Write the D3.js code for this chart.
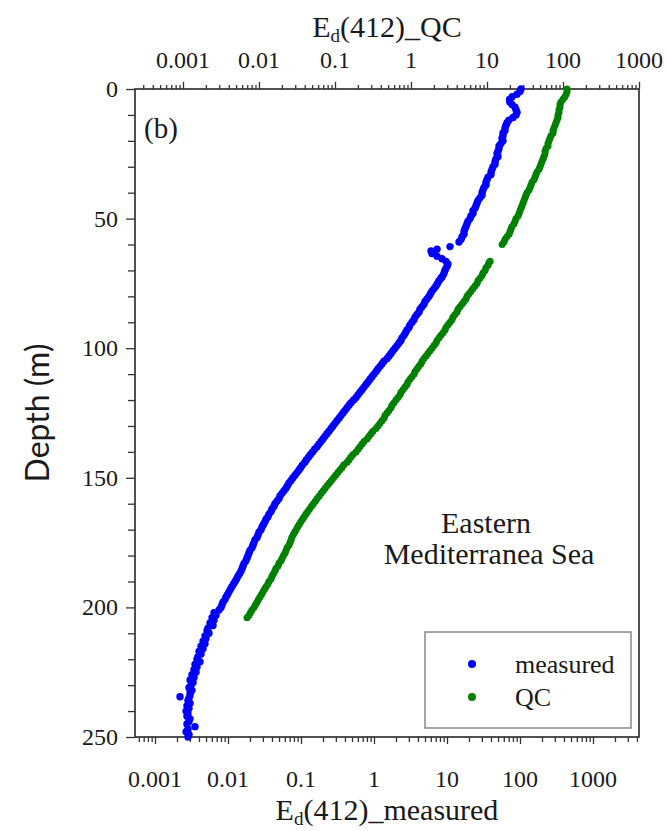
<!DOCTYPE html>
<html>
<head>
<meta charset="utf-8">
<script src="https://cdn.jsdelivr.net/npm/d3@7"></script>
<style>
  body { margin: 0; background: #fff; }
  svg { display: block; }
  .serif { font-family: "Liberation Serif", "Times New Roman", Times, "DejaVu Serif", serif; }
  .sans { font-family: Lato, "Noto Sans", "Liberation Sans", sans-serif; }
</style>
</head>
<body>
<svg id="chart" width="667" height="831"></svg>
<script>
// Ed(412) profile, Eastern Mediterranean station: measured vs. quality-controlled
const measuredDepth = [
  0,1,2,3,4,5,6,7,8,9,10,11,12,13,14,15,16,17,18,19,
  20,21,22,23,24,25,26,27,28,29,30,31,32,33,34,35,36,37,38,39,
  40,41,42,43,44,45,46,47,48,49,50,51,52,53,54,55,56,57,58,59,
  60.8,61.8,62.5,63.5,64.5,65.5,66.5,67.5,68.5,69.5,70.5,71.5,72.5,
  73,74,75,76,77,78,79,80,81,82,83,84,85,86,87,88,89,
  90,91,92,93,94,95,96,97,98,99,100,101,102,103,104,105,106,107,108,109,
  110,111,112,113,114,115,116,117,118,119,120,121,122,123,124,125,126,127,128,129,
  130,131,132,133,134,135,136,137,138,139,140,141,142,143,144,145,146,147,148,149,
  150,151,152,153,154,155,156,157,158,159,160,161,162,163,164,165,166,167,168,169,
  170,171,172,173,174,175,176,177,178,179,180,181,182,183,184,185,186,187,188,189,
  190,191,192,193,194,195,196,197,198,199,200,201,202,203,204,205,206,207,208,209,
  210,211,212,213,214,215,216,217,218,219,220,221,222,223,224,225,226,227,228,229,
  230,231,232,233,234,234.5,235,236,237,238,239,240,241,242,243,244,245,246,247,248,249,250
];
const measuredEd = [
  103,100,91.0,78.0,72.0,72.5,77.7,85.4,88.2,91.0,
  88.2,80.2,70.7,66.4,64.3,62.3,62.3,58.5,58.5,56.7,
  58.5,54.9,51.6,51.6,50.0,48.4,50.0,46.9,45.5,45.5,
  42.7,41.4,40.1,40.1,36.5,35.3,34.2,34.2,32.1,31.1,
  30.2,30.2,28.3,26.6,25.8,25.0,24.2,22.7,22.7,21.3,
  20.7,19.4,18.8,18.2,17.6,17.1,17.1,16.1,15.6,14.6,
  11.0,7.30,6.04,6.23,7.30,8.54,9.69,10.3,10.0,9.54,9.24,8.96,8.54,
  8.28,7.77,7.41,7.07,6.64,6.23,5.94,5.67,5.32,5.00,4.84,4.55,4.27,4.14,3.88,3.65,3.53,
  3.32,3.11,3.02,2.83,2.70,2.58,2.42,2.34,2.20,2.07,1.94,1.82,1.71,1.61,1.51,1.37,1.29,1.21,1.13,1.07,
  1.00,0.939,0.882,0.828,0.777,0.730,0.685,0.643,0.604,0.567,0.526,0.484,0.455,0.427,0.401,0.376,0.353,0.332,0.311,0.292,
  0.274,0.258,0.242,0.227,0.213,0.200,0.188,0.176,0.166,0.154,0.144,0.135,0.127,0.119,0.113,0.105,0.0994,0.0939,0.0882,0.0828,
  0.0777,0.0730,0.0685,0.0654,0.0623,0.0585,0.0549,0.0516,0.0500,0.0469,0.0440,0.0427,0.0401,0.0388,0.0365,0.0353,0.0332,0.0321,0.0306,0.0292,
  0.0283,0.0266,0.0258,0.0250,0.0234,0.0227,0.0220,0.0213,0.0200,0.0194,0.0188,0.0182,0.0176,0.0166,0.0161,0.0156,0.0151,0.0144,0.0137,0.0131,
  0.0125,0.0119,0.0113,0.0108,0.0103,0.00988,0.00939,0.00910,0.00854,0.00828,0.00802,0.00753,0.00643,0.00685,0.00604,0.00643,0.00567,0.00623,0.00532,0.00516,
  0.00549,0.00484,0.00500,0.00455,0.00484,0.00427,0.00455,0.00401,0.00427,0.00388,0.00376,0.00414,0.00353,0.00376,0.00342,0.00365,0.00321,0.00342,0.00302,0.00332,
  0.00311,0.00292,0.00321,0.00302,0.00302,0.00220,0.00292,0.00283,0.00302,0.00274,0.00292,0.00266,0.00283,0.00274,0.00302,0.00292,0.00274,0.00353,0.00283,0.00266,0.00292,0.00283
];

const qcDepth = [
  0,1,2,3,4,5,6,7,8,9,10,11,12,13,14,15,16,17,18,19,
  20,21,22,23,24,25,26,27,28,29,30,31,32,33,34,35,36,37,38,39,
  40,41,42,43,44,45,46,47,48,49,50,51,52,53,54,55,56,57,58,59,60,
  66.5,67,68,69,70,71,72,73,74,75,76,77,78,79,80,81,82,83,84,85,86,87,88,89,
  90,91,92,93,94,95,96,97,98,99,100,101,102,103,104,105,106,107,108,109,
  110,111,112,113,114,115,116,117,118,119,120,121,122,123,124,125,126,127,128,129,
  130,131,132,133,134,135,136,137,138,139,140,141,142,143,144,145,146,147,148,149,
  150,151,152,153,154,155,156,157,158,159,160,161,162,163,164,165,166,167,168,169,
  170,171,172,173,174,175,176,177,178,179,180,181,182,183,184,185,186,187,188,189,
  190,191,192,193,194,195,196,197,198,199,200,201,202,203,204
];
const qcEd = [
  113,113,110,106,100,94.1,91.3,91.3,88.6,88.6,
  85.9,85.9,83.4,80.9,78.5,76.1,73.9,73.9,69.5,67.4,
  65.4,63.5,63.5,59.7,58.0,58.0,56.2,54.6,52.9,51.3,
  49.8,48.3,45.5,44.1,42.8,41.5,39.1,37.9,36.8,35.7,
  33.6,32.6,31.6,30.7,29.8,28.9,28.0,27.2,26.4,25.6,
  24.1,23.4,22.7,21.3,20.7,20.1,19.5,18.3,17.3,16.7,15.8,
  11.0,10.6,10.3,9.70,9.41,8.86,8.59,8.09,7.61,7.39,6.95,6.54,6.16,5.80,5.46,5.29,4.98,4.69,4.41,4.15,4.03,3.79,3.57,3.46,
  3.26,3.07,2.89,2.80,2.64,2.48,2.34,2.20,2.13,2.01,1.89,1.78,1.67,1.58,1.48,1.40,1.35,1.27,1.20,1.13,
  1.10,1.03,0.970,0.913,0.886,0.834,0.785,0.739,0.717,0.674,0.635,0.597,0.562,0.546,0.513,0.483,0.455,0.441,0.415,0.391,
  0.368,0.346,0.316,0.298,0.280,0.264,0.241,0.227,0.213,0.201,0.189,0.173,0.162,0.153,0.144,0.131,0.124,0.116,0.109,0.102,
  0.0959,0.0899,0.0844,0.0792,0.0743,0.0700,0.0659,0.0620,0.0583,0.0551,0.0520,0.0491,0.0463,0.0439,0.0415,0.0393,0.0374,0.0355,0.0338,0.0322,
  0.0308,0.0294,0.0282,0.0270,0.0264,0.0256,0.0248,0.0234,0.0227,0.0220,0.0210,0.0201,0.0195,0.0183,0.0178,0.0167,0.0162,0.0155,0.0148,0.0144,
  0.0135,0.0131,0.0124,0.0118,0.0113,0.0108,0.0103,0.00985,0.00941,0.00899,0.00859,0.00809,0.00773,0.00739,0.00695
];

const decadeValues = [0.001, 0.01, 0.1, 1, 10, 100, 1000];
const decadeLabels = ["0.001", "0.01", "0.1", "1", "10", "100", "1000"];
const depthTicks = [0, 50, 100, 150, 200, 250];
const depthMinorTicks = [10, 20, 30, 40, 60, 70, 80, 90, 110, 120, 130, 140, 160, 170, 180, 190, 210, 220, 230, 240];
const seriesNames = ["measured", "QC"];
const seriesColors = ["#0000ff", "#008000"];

const svg = d3.select("#chart");
const plot = { left: 135, right: 639, top: 89, bottom: 737 };
const axisColor = "#333";
const textColor = "#1a1a1a";

// Scales: bottom axis for measured values, top axis for QC values
const xMeasured = d3.scaleLog().domain([5.32e-4, 4267]).range([plot.left, plot.right]);
const xQC = d3.scaleLog().domain([2.336e-4, 1000]).range([plot.left, plot.right]);
const yDepth = d3.scaleLinear().domain([0, 250]).range([plot.top, plot.bottom]);

function styleAxis(g) {
  g.select(".domain").remove();
  g.selectAll(".tick line").attr("stroke", axisColor).attr("stroke-width", 1.3);
  g.selectAll(".tick text").remove();
}
const isDecade = v => decadeValues.includes(+v.toPrecision(3));

// Bottom axis ticks (outward)
svg.append("g").attr("transform", `translate(0,${plot.bottom})`)
  .call(d3.axisBottom(xMeasured).tickValues(xMeasured.ticks().filter(v => !isDecade(v))).tickSize(5).tickFormat(""))
  .call(styleAxis);
svg.append("g").attr("transform", `translate(0,${plot.bottom})`)
  .call(d3.axisBottom(xMeasured).tickValues(decadeValues).tickSize(7).tickFormat(""))
  .call(styleAxis);

// Top axis ticks (outward)
svg.append("g").attr("transform", `translate(0,${plot.top})`)
  .call(d3.axisTop(xQC).tickValues(xQC.ticks().filter(v => !isDecade(v))).tickSize(4).tickFormat(""))
  .call(styleAxis);
svg.append("g").attr("transform", `translate(0,${plot.top})`)
  .call(d3.axisTop(xQC).tickValues(decadeValues).tickSize(7).tickFormat(""))
  .call(styleAxis);

// Left depth axis
svg.append("g").attr("transform", `translate(${plot.left},0)`)
  .call(d3.axisLeft(yDepth).tickValues(depthMinorTicks).tickSize(7).tickFormat(""))
  .call(styleAxis);
svg.append("g").attr("transform", `translate(${plot.left},0)`)
  .call(d3.axisLeft(yDepth).tickValues(depthTicks).tickSize(9).tickFormat(""))
  .call(styleAxis);

// Tick labels
svg.append("g").selectAll("text").data(decadeValues).join("text")
  .attr("class", "serif")
  .attr("x", d => xMeasured(d)).attr("y", plot.bottom + 50)
  .attr("text-anchor", "middle").attr("font-size", 24).attr("fill", textColor)
  .text((d, i) => decadeLabels[i]);
svg.append("g").selectAll("text").data(decadeValues).join("text")
  .attr("class", "serif")
  .attr("x", d => xQC(d)).attr("y", plot.top - 21)
  .attr("text-anchor", "middle").attr("font-size", 24).attr("fill", textColor)
  .text((d, i) => decadeLabels[i]);
svg.append("g").selectAll("text").data(depthTicks).join("text")
  .attr("class", "serif")
  .attr("x", plot.left - 17).attr("y", d => yDepth(d) + 8)
  .attr("text-anchor", "end").attr("font-size", 24).attr("fill", textColor)
  .text(d => d);

// Frame
svg.append("rect")
  .attr("x", plot.left).attr("y", plot.top)
  .attr("width", plot.right - plot.left).attr("height", plot.bottom - plot.top)
  .attr("fill", "none").attr("stroke", axisColor).attr("stroke-width", 1.7);

// Axis titles
function edTitle(x, y, suffix) {
  const t = svg.append("text").attr("class", "serif").attr("x", x).attr("y", y)
    .attr("text-anchor", "middle").attr("font-size", 30).attr("fill", textColor);
  t.append("tspan").text("E");
  t.append("tspan").attr("font-size", 19).attr("dy", 5).text("d");
  t.append("tspan").attr("dy", -5).text("(412)_" + suffix);
}
edTitle(387, 37, "QC");
edTitle(387, 820, "measured");

svg.append("text").attr("class", "sans")
  .attr("transform", `translate(49,${(plot.top + plot.bottom) / 2}) rotate(-90)`)
  .attr("text-anchor", "middle")
  .attr("font-size", 32).attr("fill", textColor).text("Depth (m)");

// Panel label and region name
svg.append("text").attr("class", "serif").attr("x", 144).attr("y", 138)
  .attr("font-size", 29).attr("fill", textColor).text("(b)");
svg.append("text").attr("class", "serif").attr("x", 486).attr("y", 533).attr("text-anchor", "middle")
  .attr("font-size", 30).attr("fill", textColor).text("Eastern");
svg.append("text").attr("class", "serif").attr("x", 489).attr("y", 564).attr("text-anchor", "middle")
  .attr("font-size", 30).attr("fill", textColor).text("Mediterranea Sea");

// Data points
const measured = measuredDepth.map((d, i) => ({ depth: d, value: measuredEd[i] }));
const qc = qcDepth.map((d, i) => ({ depth: d, value: qcEd[i] }));

svg.append("g").selectAll("circle").data(measured).join("circle")
  .attr("cx", d => xMeasured(d.value)).attr("cy", d => yDepth(d.depth))
  .attr("r", 3.7).attr("fill", seriesColors[0]);
svg.append("g").selectAll("circle").data(qc).join("circle")
  .attr("cx", d => xQC(d.value)).attr("cy", d => yDepth(d.depth))
  .attr("r", 3.5).attr("fill", seriesColors[1]);

// Legend
const legend = svg.append("g");
legend.append("rect").attr("x", 425).attr("y", 632).attr("width", 206).attr("height", 96)
  .attr("fill", "#fff").attr("stroke", "#888").attr("stroke-width", 1.5);
const legendRows = legend.selectAll("g.row").data(seriesNames).join("g").attr("class", "row")
  .attr("transform", (d, i) => `translate(0,${664 + i * 33})`);
legendRows.append("circle").attr("cx", 472).attr("cy", 0).attr("r", 4)
  .attr("fill", (d, i) => seriesColors[i]);
legendRows.append("text").attr("class", "serif").attr("x", 515).attr("y", 9)
  .attr("font-size", 26).attr("fill", textColor).text(d => d);
</script>
</body>
</html>
